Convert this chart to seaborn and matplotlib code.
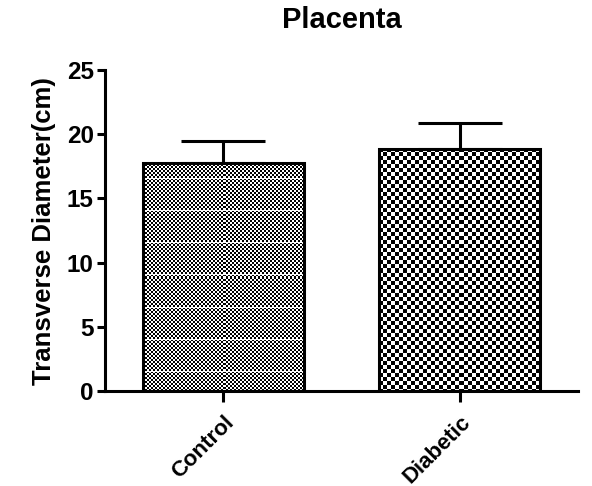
import numpy as np
import pandas as pd
import matplotlib
matplotlib.use("Agg")
import matplotlib.pyplot as plt
import seaborn as sns

categories = ["Control", "Diabetic"]
means = [17.75, 18.85]
sems = [1.75, 2.05]
title = "Placenta"
ylabel = "Transverse Diameter(cm)"
yticks = [0, 5, 10, 15, 20, 25]

sns.set_theme(style="ticks")
plt.rcParams['font.family'] = ['Liberation Sans', 'DejaVu Sans']
plt.rcParams['font.weight'] = 'bold'
plt.rcParams['text.color'] = 'black'
plt.rcParams['axes.labelcolor'] = 'black'

df = pd.DataFrame({"group": categories, "value": means})

fig = plt.figure(figsize=(5.92, 4.86), dpi=100)
ax = fig.add_axes([0.177, 0.195, 0.800, 0.661])

sns.barplot(data=df, x="group", y="value", order=categories, width=0.68,
            errorbar=None, ax=ax, facecolor="none", edgecolor="black",
            linewidth=2.2, zorder=3)

ax.errorbar(x=np.arange(len(categories)), y=means,
            yerr=[np.zeros(len(sems)), sems], fmt="none", ecolor="black",
            elinewidth=2.2, capsize=30, capthick=2.2, zorder=1)

ax.set_xlim(-0.5, 1.5)
ax.set_ylim(0, 25)
ax.set_yticks(yticks)
ax.set_yticklabels([str(t) for t in yticks], fontsize=17.5, fontweight='bold', color='black')
ax.set_xticks(range(len(categories)))
ax.set_xticklabels(categories, fontsize=16, fontweight='bold', rotation=45,
                   ha='right', va='top', rotation_mode='anchor', color='black')
ax.set_xlabel("")
ax.set_ylabel(ylabel, fontsize=18.5, fontweight='bold', labelpad=8, color='black')
ax.set_title(title, fontsize=21, fontweight='bold', pad=30, color='black')
sns.despine(ax=ax)
for s in ["left", "bottom"]:
    ax.spines[s].set_linewidth(2.2)
    ax.spines[s].set_color('black')
ax.tick_params(axis='both', width=2.2, length=6, colors='black', pad=2)
ax.tick_params(axis='x', length=8, pad=7)

# checkerboard textures clipped to the bars
fig.canvas.draw()
cell_sizes = [2.0, 4.0]
for patch, cell, idx in zip(ax.patches, cell_sizes, range(2)):
    bb = patch.get_window_extent()
    w = max(int(round(bb.width)), 1)
    h = max(int(round(bb.height)), 1)
    yy, xx = np.mgrid[0:h, 0:w]
    board = ((np.floor(xx / cell) + np.floor(yy / cell)) % 2).astype(float)
    if idx == 0:
        board[(yy % 32) == 16] = 1.0
    x0 = patch.get_x()
    x1 = x0 + patch.get_width()
    y0 = patch.get_y()
    y1 = y0 + patch.get_height()
    im = ax.imshow(board, cmap="gray", vmin=0, vmax=1, extent=[x0, x1, y0, y1],
                   interpolation="nearest", aspect="auto", zorder=2, origin="upper")
    im.set_clip_path(patch)
ax.set_xlim(-0.5, 1.5)
ax.set_ylim(0, 25)

fig.savefig("out.png", dpi=100)
